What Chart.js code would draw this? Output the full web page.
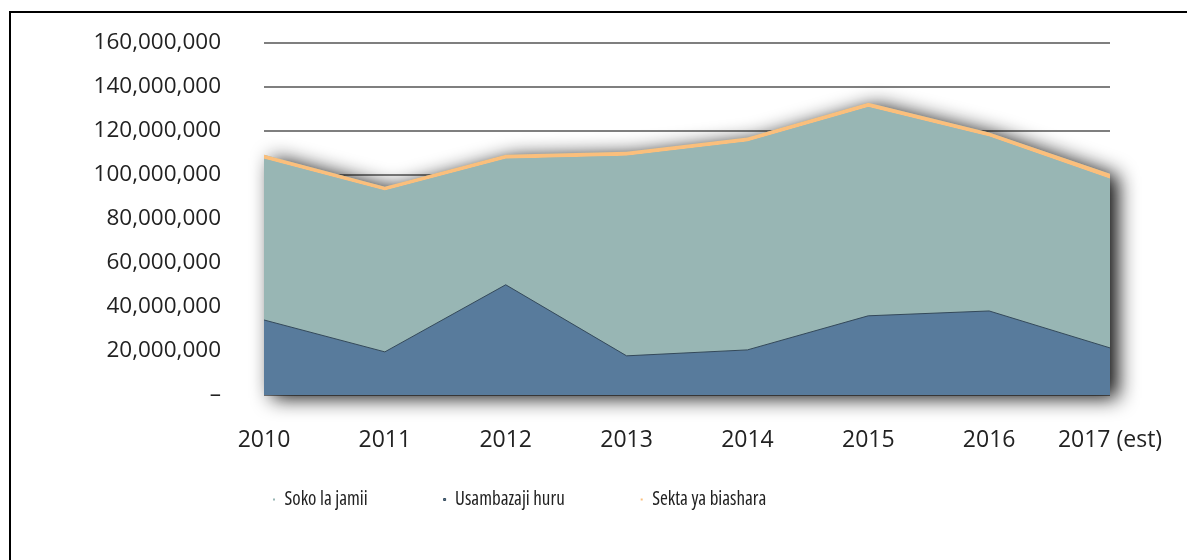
<!DOCTYPE html>
<html>
<head>
<meta charset="utf-8">
<script src="https://cdn.jsdelivr.net/npm/chart.js@4/dist/chart.umd.min.js"></script>
<style>
  html, body { margin: 0; padding: 0; background: #fff; overflow: hidden; }
  #frame { position: absolute; left: 9px; top: 11px; width: 1300px; height: 700px; border: 2px solid #000; box-sizing: border-box; }
  #c { position: absolute; left: 0; top: 0; }
</style>
</head>
<body>
<div id="frame"></div>
<canvas id="c" width="1187" height="560"></canvas>
<script>
const years = ['2010', '2011', '2012', '2013', '2014', '2015', '2016', '2017 (est)'];
const usambazajiHuru = [34100000, 19600000, 50100000, 17800000, 20500000, 36000000, 38200000, 21400000];
const sokoLaJamii = [73300000, 73300000, 57300000, 91000000, 94700000, 94900000, 79300000, 76900000];
const sektaYaBiashara = [1800000, 1800000, 1800000, 1800000, 1800000, 1900000, 1800000, 2300000];
const yTicks = [0, 20000000, 40000000, 60000000, 80000000, 100000000, 120000000, 140000000, 160000000];

const BLUE = '#587B9C', TEAL = '#98B6B4', ORANGE = '#FBBF7C';
const legendRank = [1, 0, 2];

const shadowPlugin = {
  id: 'areaShadow',
  beforeDatasetsDraw(chart) {
    const pts = chart.getDatasetMeta(2).data;
    if (!pts || !pts.length) return;
    const yBase = chart.scales.y.getPixelForValue(0);
    const ctx = chart.ctx;
    ctx.save();
    ctx.beginPath();
    ctx.moveTo(pts[0].x, pts[0].y);
    for (let i = 1; i < pts.length; i++) ctx.lineTo(pts[i].x, pts[i].y);
    ctx.lineTo(pts[pts.length - 1].x, yBase);
    ctx.lineTo(pts[0].x, yBase);
    ctx.closePath();
    ctx.shadowColor = 'rgba(0,0,0,0.95)';
    ctx.shadowBlur = 20;
    ctx.shadowOffsetX = 8;
    ctx.shadowOffsetY = 3;
    ctx.fillStyle = TEAL;
    ctx.fill();
    ctx.restore();
  }
};

// place the legend row below the axis labels, like the reference
const legendPlace = {
  id: 'legendPlace',
  afterLayout(chart) {
    const lg = chart.legend;
    if (!lg) return;
    const w = lg.right - lg.left;
    lg.left = 197; lg.right = 197 + w;
    lg.top = 414; lg.bottom = 414 + 140; lg.height = 140;
  }
};

new Chart(document.getElementById('c'), {
  type: 'line',
  data: {
    labels: years,
    datasets: [
      { label: 'Usambazaji huru', data: usambazajiHuru, backgroundColor: BLUE, borderColor: '#34495A', borderWidth: 1, fill: 'origin', pointRadius: 0, tension: 0 },
      { label: 'Soko la jamii', data: sokoLaJamii, backgroundColor: TEAL, borderColor: TEAL, borderWidth: 0, fill: '-1', pointRadius: 0, tension: 0 },
      { label: 'Sekta ya biashara', data: sektaYaBiashara, backgroundColor: ORANGE, borderColor: ORANGE, borderWidth: 0, fill: '-1', pointRadius: 0, tension: 0 }
    ]
  },
  options: {
    responsive: false,
    animation: false,
    layout: { padding: { left: 80, right: 77, top: 43, bottom: 0 } },
    scales: {
      x: {
        grid: { display: false, drawTicks: true, tickLength: 29 },
        border: { display: false },
        ticks: { padding: 3, color: '#222', font: { family: "'Open Sans'", size: 23 }, maxRotation: 0, autoSkip: false },
        afterFit(scale) { scale.height = 65; }
      },
      y: {
        stacked: true,
        min: 0, max: 160000000,
        grid: { color: '#7F7F7F', lineWidth: 2, drawTicks: true, tickLength: 40, tickColor: 'rgba(0,0,0,0)' },
        border: { display: false },
        afterBuildTicks(scale) { scale.ticks = yTicks.map(v => ({ value: v })); },
        ticks: {
          padding: 3, color: '#222', font: { family: "'Open Sans'", size: 22.5 },
          callback: v => v === 0 ? '–' : Number(v).toLocaleString('en-US')
        },
        afterFit(scale) { scale.width = 184; }
      }
    },
    plugins: {
      tooltip: { enabled: false },
      legend: {
        position: 'bottom',
        align: 'start',
        maxHeight: 100,
        labels: {
          boxWidth: 2, boxHeight: 2, padding: 76, color: '#222',
          font: { family: "'Open Sans'", size: 19, weight: 'condensed' },
          sort: (a, b) => legendRank[a.datasetIndex] - legendRank[b.datasetIndex]
        }
      }
    }
  },
  plugins: [shadowPlugin, legendPlace]
});
</script>
</body>
</html>
